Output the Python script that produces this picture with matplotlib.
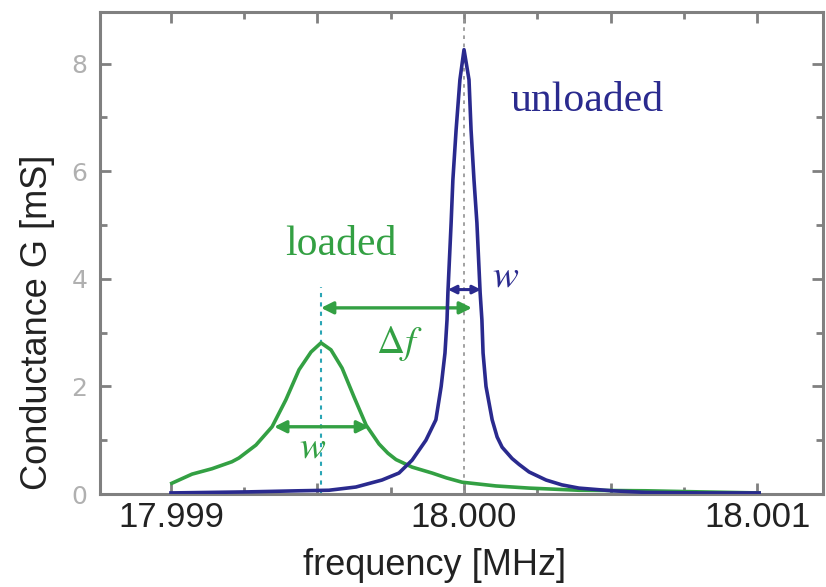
import matplotlib
matplotlib.use("Agg")
import matplotlib.pyplot as plt
from matplotlib.ticker import MultipleLocator

F0 = 18.0  # MHz, unloaded resonance

# unloaded resonance: offset from F0 [Hz], conductance [mS]
unloaded_df = [-1000, -734, -563, -461, -369, -280, -222, -177, -130, -96, -78, -65,
               -58, -55, -44, -38, -27, -14, 0, 17, 24, 34, 44, 55, 61, 65, 75, 96,
               113, 130, 164, 188, 222, 280, 334, 392, 505, 621, 802, 1007]
unloaded_g = [0.02, 0.04, 0.06, 0.07, 0.13, 0.26, 0.39, 0.63, 1.00, 1.38, 2.00, 2.62,
              3.24, 3.74, 5.04, 5.84, 6.77, 7.70, 8.26, 7.70, 6.77, 5.84, 5.04, 3.74,
              3.24, 2.62, 2.00, 1.38, 1.06, 0.87, 0.66, 0.55, 0.41, 0.26, 0.17, 0.11,
              0.06, 0.03, 0.02, 0.02]

# loaded resonance
loaded_df = [-997, -928, -860, -792, -768, -710, -655, -608, -563, -522, -488, -454,
             -416, -375, -334, -290, -260, -232, -177, -140, -109, -60, -7, 109, 222,
             392, 621, 802, 1007]
loaded_g = [0.20, 0.37, 0.47, 0.60, 0.67, 0.91, 1.25, 1.75, 2.31, 2.64, 2.81, 2.68,
            2.34, 1.80, 1.28, 0.93, 0.76, 0.64, 0.50, 0.44, 0.39, 0.30, 0.22, 0.15,
            0.11, 0.07, 0.06, 0.04, 0.02]

loaded_peak = -488      # Hz
shift_end = 27          # Hz, right end of the delta-f arrow
loaded_w = (-648, -324)
unloaded_w = (-55, 58)

x_ticks = [17.999, 17.9995, 18.000, 18.0005, 18.001]
x_labels = ["17.999", "", "18.000", "", "18.001"]
y_ticks = [0, 2, 4, 6, 8]

blue = "#2a2a8e"
green = "#33a043"
axis_gray = "#808080"
serif = "Liberation Serif"


def mhz(d):
    return F0 + d * 1e-6


def arrow(x0, x1, y, color, size, lw):
    ax.annotate("", xy=(mhz(x0), y), xytext=(mhz(x1), y),
                arrowprops=dict(arrowstyle="<|-|>", color=color, lw=lw,
                                mutation_scale=size, shrinkA=0, shrinkB=0))


fig = plt.figure(figsize=(8.26, 5.87), dpi=100)
ax = fig.add_axes([0.1211, 0.1584, 0.8753, 0.8212])

ax.plot([mhz(d) for d in loaded_df], loaded_g, color=green, lw=2.6, zorder=3,
        solid_joinstyle="round")
ax.plot([mhz(d) for d in unloaded_df], unloaded_g, color=blue, lw=2.6, zorder=4,
        solid_joinstyle="round")

# guide lines through both resonance peaks
ax.plot([mhz(loaded_peak)] * 2, [0, 3.85], color="#2aa5b5", lw=1.5,
        ls=(0, (2, 2.5)), zorder=2)
ax.axvline(F0, color="#9a9a9a", lw=1.3, ls=(0, (2, 2.5)), zorder=2)

# width and shift arrows
arrow(loaded_peak, shift_end, 3.46, green, 18, 2.4)
arrow(loaded_w[0], loaded_w[1], 1.25, green, 18, 2.4)
arrow(unloaded_w[0], unloaded_w[1], 3.80, blue, 12, 2.2)

ax.text(mhz(-420), 4.63, "loaded", color=green, fontsize=30, family=serif,
        ha="center", va="center")
ax.text(mhz(420), 7.31, "unloaded", color=blue, fontsize=30, family=serif,
        ha="center", va="center")
ax.text(mhz(143), 4.07, "$w$", color=blue, fontsize=28, ha="center", va="center",
        math_fontfamily="stix")
ax.text(mhz(-222), 2.79, r"$\Delta f$", color=green, fontsize=28, ha="center",
        va="center", math_fontfamily="stix")
ax.text(mhz(-515), 0.89, "$w$", color=green, fontsize=28, ha="center",
        va="center", math_fontfamily="stix")

ax.set_xlim(17.998758, 18.001225)
ax.set_ylim(0, 8.96)

ax.set_xticks(x_ticks)
ax.set_xticklabels(x_labels)
ax.xaxis.set_minor_locator(MultipleLocator(0.00025))
ax.set_yticks(y_ticks)
ax.yaxis.set_minor_locator(MultipleLocator(1))

for side in ["left", "right", "top", "bottom"]:
    ax.spines[side].set_color(axis_gray)
    ax.spines[side].set_linewidth(2.2)

ax.tick_params(which="both", direction="in", top=True, right=True, color=axis_gray,
               width=2)
ax.tick_params(which="major", length=8)
ax.tick_params(which="minor", length=5)
ax.tick_params(axis="x", labelsize=25, labelcolor="#222222", pad=5)
ax.tick_params(axis="y", labelsize=18, labelcolor="#b0b0b0", pad=9)
for lab in ax.get_xticklabels():
    lab.set_family("Liberation Sans")

ax.set_xlabel("frequency [MHz]", fontsize=26, color="#222222", family="Liberation Sans")
ax.set_ylabel("Conductance G [mS]", fontsize=26, color="#222222",
              family="Liberation Sans")
ax.xaxis.set_label_coords(0.463, -0.112)
ax.yaxis.set_label_coords(-0.062, 0.357)

fig.savefig("out.png", dpi=100)
